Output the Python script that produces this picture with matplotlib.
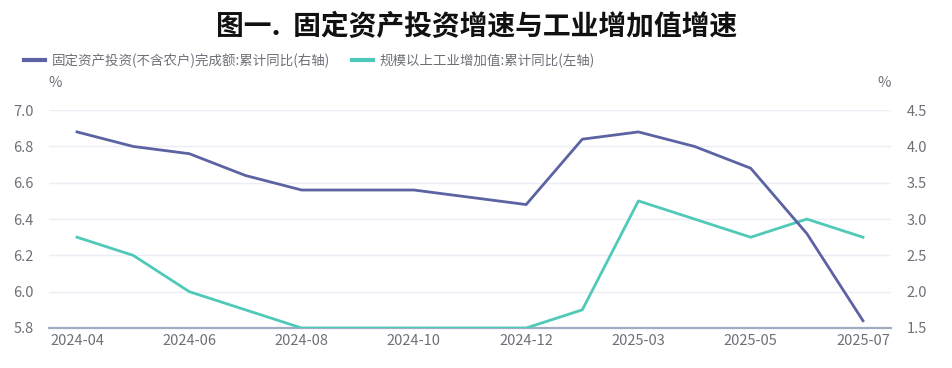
"""
图一 固定资产投资增速与工业增加值增速 — 双轴折线图
输出: out.png
"""

import matplotlib
matplotlib.use("Agg")
import matplotlib.pyplot as plt
import numpy as np
from matplotlib.lines import Line2D

plt.rcParams["font.family"] = ["Noto Sans CJK SC", "DejaVu Sans"]

# ── 数据 ──
months = ["2024-04", "2024-05", "2024-06", "2024-07", "2024-08", "2024-09",
          "2024-10", "2024-11", "2024-12", "2025-02", "2025-03", "2025-04",
          "2025-05", "2025-06", "2025-07"]
fai = [4.2, 4.0, 3.9, 3.6, 3.4, 3.4, 3.4, 3.3, 3.2, 4.1, 4.2, 4.0, 3.7, 2.8, 1.6]   # 右轴
iva = [6.3, 6.2, 6.0, 5.9, 5.8, 5.8, 5.8, 5.8, 5.8, 5.9, 6.5, 6.4, 6.3, 6.4, 6.3]   # 左轴
shown_labels = ["2024-04", "2024-06", "2024-08", "2024-10", "2024-12",
                "2025-03", "2025-05", "2025-07"]
left_ticks = [5.8, 6.0, 6.2, 6.4, 6.6, 6.8, 7.0]
right_ticks = [1.5, 2.0, 2.5, 3.0, 3.5, 4.0, 4.5]

name_fai = "固定资产投资(不含农户)完成额:累计同比(右轴)"
name_iva = "规模以上工业增加值:累计同比(左轴)"

C_FAI = "#5c63a2"
C_IVA = "#4fc9b8"
C_TXT = "#6e7079"
C_GRID = "#eceef5"
C_AXIS = "#a3abc4"

fig = plt.figure(figsize=(9.53, 3.68), dpi=100)
ax = fig.add_axes([0.0514, 0.1087, 0.8836, 0.592])
ax2 = ax.twinx()

x = np.arange(len(months))
ax.plot(x, iva, color=C_IVA, linewidth=2, zorder=3)
ax2.plot(x, fai, color=C_FAI, linewidth=2, zorder=3)

ax.set_xlim(-0.5, len(months) - 0.5)
ax.set_ylim(5.8, 7.0)
ax2.set_ylim(1.5, 4.5)
ax.set_yticks(left_ticks)
ax.set_yticklabels([f"{v:.1f}" for v in left_ticks])
ax2.set_yticks(right_ticks)
ax2.set_yticklabels([f"{v:.1f}" for v in right_ticks])

idx = [months.index(m) for m in shown_labels]
ax.set_xticks(idx)
ax.set_xticklabels(shown_labels)

ax.grid(True, axis="y", color=C_GRID, linewidth=1)
ax.set_axisbelow(True)
for a in (ax, ax2):
    for s in ("top", "left", "right", "bottom"):
        a.spines[s].set_visible(False)
    a.tick_params(length=0, labelsize=10.5, colors=C_TXT)
ax.spines["bottom"].set_visible(True)
ax.spines["bottom"].set_color(C_AXIS)
ax.spines["bottom"].set_linewidth(1.6)
ax.spines["bottom"].set_zorder(2)
ax.tick_params(axis="x", pad=4)
ax.tick_params(axis="y", pad=11)
ax2.tick_params(axis="y", pad=11)

fig.text(0.058, 0.775, "%", color=C_TXT, fontsize=10.5, ha="center", va="center")
fig.text(0.928, 0.775, "%", color=C_TXT, fontsize=10.5, ha="center", va="center")

fig.suptitle("图一.  固定资产投资增速与工业增加值增速", x=0.5, y=0.965,
             fontsize=20, fontweight="bold", color="#111111")

handles = [Line2D([], [], color=C_FAI, linewidth=3),
           Line2D([], [], color=C_IVA, linewidth=3)]
fig.legend(handles, [name_fai, name_iva], loc="center left",
           bbox_to_anchor=(0.012, 0.835), ncol=2, frameon=False,
           handlelength=1.6, handletextpad=0.5, columnspacing=1.6,
           fontsize=9.7, labelcolor=C_TXT)

fig.savefig("out.png", dpi=100)
